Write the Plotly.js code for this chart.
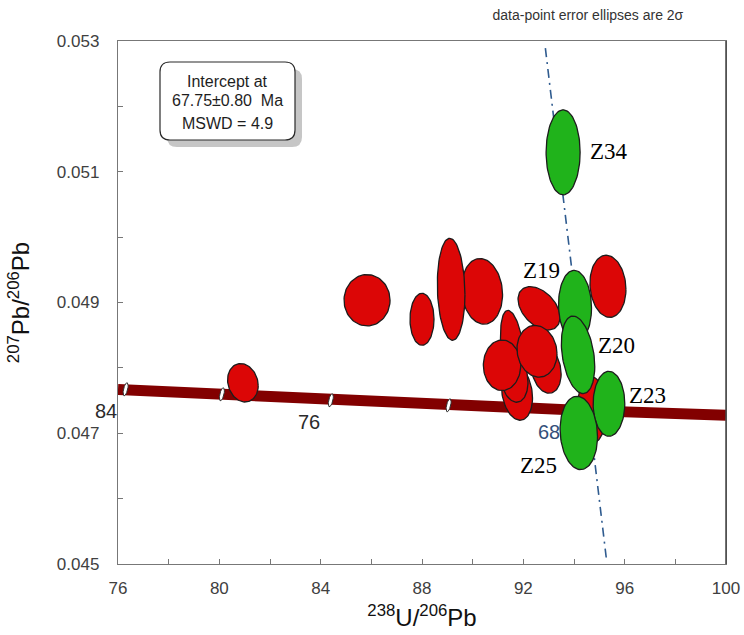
<!DOCTYPE html>
<html>
<head>
<meta charset="utf-8">
<script src="https://cdn.plot.ly/plotly-3.0.1.min.js"></script>
<style>
  html, body { margin: 0; padding: 0; background: #ffffff; }
  #chart { width: 744px; height: 635px; }
</style>
</head>
<body>
<div id="chart"></div>
<script>
// Tera-Wasserburg concordia: 238U/206Pb vs 207Pb/206Pb

// Concordia band (points at the marked ages plus the axis ends)
const concX = [76, 80.1, 84.4, 89.05, 94.3, 100];
const concY = [0.047668, 0.047596, 0.047505, 0.047428, 0.04735, 0.047275];

// Age ticks on the concordia (Ma) and their positions
const ageLabels = ["84", "80", "76", "72", "68"];
const ageX = [76.3, 80.1, 84.4, 89.05, 94.3];
const ageY = [0.047673, 0.047596, 0.047505, 0.047428, 0.04735];
// Age labels drawn next to the ticks (paper coordinates, the first sits left of the axis)
const ageTextLabels = ["84", "76", "68"];
const ageTextPx = [-0.0197, 0.3141, 0.7089];
const ageTextPy = [0.2925, 0.2715, 0.2524];

// Discordia (regression) line end points
const discX = [92.87, 95.28];
const discY = [0.052891, 0.045073];

// Rejected / common-Pb analyses (red): centre, 2-sigma errors, error correlation
const redX   = [80.93, 85.83, 88.00, 90.37, 89.15, 95.34, 91.59, 91.75, 91.63, 91.16, 92.62, 92.90, 92.54, 94.71];
const redY   = [0.047772, 0.049034, 0.048743, 0.049171, 0.049202, 0.049248, 0.048239, 0.047627, 0.047856, 0.04804, 0.048911, 0.047979, 0.048254, 0.047352];
const redSx  = [0.604, 0.908, 0.474, 0.81, 0.545, 0.71, 0.493, 0.612, 0.553, 0.738, 0.829, 0.592, 0.79, 0.592];
const redSy  = [0.000294, 0.000393, 0.000398, 0.000502, 0.00078, 0.000475, 0.000642, 0.000428, 0.000382, 0.000387, 0.000332, 0.000367, 0.000395, 0.000505];
const redRho = [-0.15, 0, 0, -0.1, -0.1, -0.1, -0.4, -0.2, -0.2, 0, -0.42, -0.2, -0.1, 0];

// Analyses used in the regression (green)
const grnNames = ["Z34", "Z19", "Z20", "Z23", "Z25"];
const grnX   = [93.57, 94.04, 94.16, 95.38, 94.19];
const grnY   = [0.051297, 0.048942, 0.0482, 0.047451, 0.047005];
const grnSx  = [0.671, 0.651, 0.659, 0.624, 0.738];
const grnSy  = [0.00065, 0.00055, 0.000593, 0.000497, 0.000561];
const grnRho = [0, -0.05, -0.3, 0, -0.1];
// Label positions for the green analyses
const grnLabX = [95.38, 92.70, 95.66, 96.92, 92.60];
const grnLabY = [0.051312, 0.049492, 0.048346, 0.047581, 0.046511];

// Error ellipse outline from centre, 2-sigma half widths and correlation
function ellipse(cx, cy, sx, sy, rho) {
  const xs = [], ys = [];
  const k = Math.sqrt(1 - rho * rho);
  const n = 90;
  for (let i = 0; i <= n; i++) {
    const t = 2 * Math.PI * i / n;
    xs.push(cx + sx * Math.cos(t));
    ys.push(cy + sy * (rho * Math.cos(t) + k * Math.sin(t)));
  }
  return { xs, ys };
}

function ellipseTrace(cx, cy, sx, sy, rho, fill, edge, width) {
  const e = ellipse(cx, cy, sx, sy, rho);
  return {
    type: "scatter", mode: "lines", x: e.xs, y: e.ys,
    fill: "toself", fillcolor: fill,
    line: { color: edge, width: width },
    hoverinfo: "skip", showlegend: false
  };
}

const traces = [];

// concordia band
traces.push({
  type: "scatter", mode: "lines", x: concX, y: concY,
  line: { color: "#820000", width: 11 },
  hoverinfo: "skip", showlegend: false
});

// discordia
traces.push({
  type: "scatter", mode: "lines", x: discX, y: discY,
  line: { color: "#2f5b8f", width: 1.6, dash: "9px,5px,2px,5px" },
  hoverinfo: "skip", showlegend: false
});

// age ticks on the concordia
for (let i = 0; i < ageX.length; i++) {
  traces.push(ellipseTrace(ageX[i], ageY[i], 0.1, 0.0001, 0.55, "#ffffff", "#333333", 1));
}

// red analyses
for (let i = 0; i < redX.length; i++) {
  traces.push(ellipseTrace(redX[i], redY[i], redSx[i], redSy[i], redRho[i], "#dc0606", "#1c1c1c", 1.3));
}

// green analyses
for (let i = 0; i < grnX.length; i++) {
  traces.push(ellipseTrace(grnX[i], grnY[i], grnSx[i], grnSy[i], grnRho[i], "#20b31b", "#1c1c1c", 1.3));
}

const annotations = [];

for (let i = 0; i < grnNames.length; i++) {
  annotations.push({
    x: grnLabX[i], y: grnLabY[i], xref: "x", yref: "y",
    text: grnNames[i], showarrow: false,
    font: { family: "Liberation Serif, Times New Roman, serif", size: 23, color: "#000000" },
    xanchor: "center", yanchor: "middle"
  });
}

for (let i = 0; i < ageTextLabels.length; i++) {
  annotations.push({
    x: ageTextPx[i], y: ageTextPy[i], xref: "paper", yref: "paper",
    text: ageTextLabels[i], showarrow: false,
    font: { family: "Liberation Sans", size: 20, color: i === 2 ? "#34507a" : "#2b2b2b" },
    xanchor: "center", yanchor: "middle"
  });
}

// intercept box text
const boxFont = { family: "Liberation Sans, Arial, sans-serif", size: 16, color: "#1e1e1e" };
const boxLines = ["Intercept at", "67.75±0.80  Ma", "MSWD = 4.9"];
const boxLineY = [81, 100, 123];
for (let i = 0; i < boxLines.length; i++) {
  annotations.push({
    x: (227 - 118) / 608, y: (564 - boxLineY[i]) / 523, xref: "paper", yref: "paper",
    text: boxLines[i], showarrow: false, font: boxFont,
    xanchor: "center", yanchor: "middle"
  });
}

// rounded box with drop shadow, sized in pixels from the plot's top-left corner
function roundedBox(x0, y0, x1, y1, r) {
  return "M " + (x0 + r) + "," + y0 +
    " L " + (x1 - r) + "," + y0 + " Q " + x1 + "," + y0 + " " + x1 + "," + (y0 - r) +
    " L " + x1 + "," + (y1 + r) + " Q " + x1 + "," + y1 + " " + (x1 - r) + "," + y1 +
    " L " + (x0 + r) + "," + y1 + " Q " + x0 + "," + y1 + " " + x0 + "," + (y1 + r) +
    " L " + x0 + "," + (y0 - r) + " Q " + x0 + "," + y0 + " " + (x0 + r) + "," + y0 + " Z";
}

const shapes = [
  {
    type: "path", xref: "x", yref: "y", xsizemode: "pixel", ysizemode: "pixel",
    xanchor: 76, yanchor: 0.053,
    path: roundedBox(49, -28, 184, -106, 10),
    fillcolor: "#c6c6c6", line: { width: 0 }, layer: "above"
  },
  {
    type: "path", xref: "x", yref: "y", xsizemode: "pixel", ysizemode: "pixel",
    xanchor: 76, yanchor: 0.053,
    path: roundedBox(42, -21, 177, -99, 10),
    fillcolor: "#ffffff", line: { color: "#2a2a2a", width: 1.2 }, layer: "above"
  },
  // darker right-hand frame edge
  {
    type: "line", xref: "paper", yref: "paper", x0: 1, x1: 1, y0: 0, y1: 1,
    line: { color: "#444444", width: 1.5 }, layer: "above"
  }
];

const tickFont = { family: "Liberation Sans, Arial, sans-serif", size: 17, color: "#404040" };
const titleFont = { family: "Liberation Sans, Arial, sans-serif", size: 24, color: "#111111" };

const layout = {
  width: 744, height: 635,
  margin: { l: 118, r: 18, t: 41, b: 71 },
  paper_bgcolor: "#ffffff", plot_bgcolor: "#ffffff",
  showlegend: false,
  title: {
    text: "data-point error ellipses are 2σ",
    font: { family: "Liberation Sans, Arial, sans-serif", size: 14, color: "#333333" },
    x: 575 / 744, xanchor: "center", xref: "paper",
    y: 1 - 15 / 635, yanchor: "middle", yref: "container"
  },
  xaxis: {
    range: [76, 100], tick0: 76, dtick: 4,
    ticks: "inside", ticklen: 5, tickcolor: "#777777", tickwidth: 1,
    showline: true, linecolor: "#777777", linewidth: 1.2, mirror: true,
    showgrid: false, zeroline: false,
    tickfont: tickFont, ticklabelstandoff: 8,
    minor: { dtick: 2, ticks: "inside", ticklen: 5, tickcolor: "#777777", showgrid: false },
    title: { text: "<sup>238</sup>U/<sup>206</sup>Pb", font: titleFont, standoff: 12 }
  },
  yaxis: {
    range: [0.045, 0.053], tick0: 0.045, dtick: 0.002, tickformat: ".3f",
    ticks: "inside", ticklen: 5, tickcolor: "#777777", tickwidth: 1,
    showline: true, linecolor: "#777777", linewidth: 1.2, mirror: true,
    showgrid: false, zeroline: false,
    tickfont: tickFont, ticklabelstandoff: 14,
    minor: { dtick: 0.001, ticks: "inside", ticklen: 5, tickcolor: "#777777", showgrid: false },
    title: { text: "<sup>207</sup>Pb/<sup>206</sup>Pb", font: titleFont, standoff: 20 }
  },
  annotations: annotations,
  shapes: shapes
};

Plotly.newPlot("chart", traces, layout, { staticPlot: true, displayModeBar: false });
</script>
</body>
</html>
